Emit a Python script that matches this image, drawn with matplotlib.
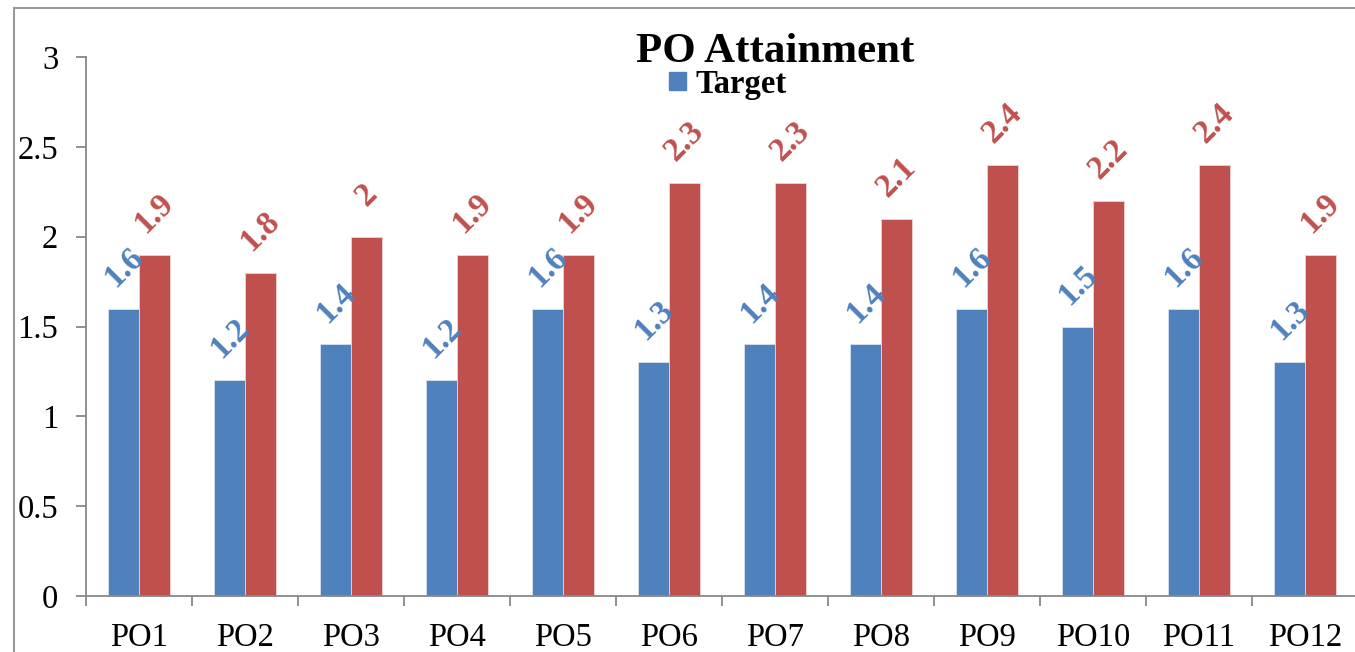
import matplotlib.pyplot as plt
import numpy as np
from matplotlib.patches import Rectangle, Patch

plt.rcParams['font.family'] = ['Liberation Serif', 'DejaVu Serif']

# PO attainment values
outcomes = ["PO1", "PO2", "PO3", "PO4", "PO5", "PO6",
            "PO7", "PO8", "PO9", "PO10", "PO11", "PO12"]
target = [1.6, 1.2, 1.4, 1.2, 1.6, 1.3, 1.4, 1.4, 1.6, 1.5, 1.6, 1.3]
attained = [1.9, 1.8, 2.0, 1.9, 1.9, 2.3, 2.3, 2.1, 2.4, 2.2, 2.4, 1.9]

blue = "#4F81BD"
red = "#C0504D"
axis_grey = "#888888"

fig = plt.figure(figsize=(13.55, 6.52), dpi=100)
ax = fig.add_axes([86 / 1355, 1 - 596 / 652, 1272 / 1355, (596 - 57) / 652])

x = np.arange(len(outcomes))
w = 0.29
b1 = ax.bar(x - w / 2, target, w, color=blue, edgecolor="#d9e2ef", linewidth=0.6, label="Target")
b2 = ax.bar(x + w / 2, attained, w, color=red, edgecolor="#efd3d2", linewidth=0.6, label="Attained")

# rotated value labels above each bar
for bars, vals, col in [(b1, target, blue), (b2, attained, red)]:
    for rect, v in zip(bars, vals):
        ax.annotate(f"{v:g}", (rect.get_x() + rect.get_width() / 2, v),
                    xytext=(0, 30), textcoords="offset points",
                    ha="center", va="center", rotation=45,
                    fontsize=24, fontweight="bold", color=col)

ax.set_xlim(-0.5, len(outcomes) - 0.5)
ax.set_ylim(0, 3)
ax.set_yticks(np.arange(0, 3.01, 0.5))
ax.set_yticklabels(["0", "0.5", "1", "1.5", "2", "2.5", "3"])

ax.set_xticks(x)
ax.set_xticklabels(outcomes)
ax.set_xticks(np.arange(-0.5, len(outcomes), 1), minor=True)
ax.tick_params(axis="x", which="major", length=0, pad=19, labelsize=23.5)
ax.tick_params(axis="x", which="minor", length=7, width=1.3, color=axis_grey)
ax.tick_params(axis="y", length=7, width=1.3, color=axis_grey, pad=13, labelsize=23.5)

for side in ["top", "right"]:
    ax.spines[side].set_visible(False)
for side in ["left", "bottom"]:
    ax.spines[side].set_color(axis_grey)
    ax.spines[side].set_linewidth(1.3)

fig.text(0.572, 1 - 62 / 652, "PO Attainment", ha="center", va="baseline",
         fontsize=31, fontweight="bold")

ax.legend(handles=[Patch(color=blue, label="Target")], loc="center left",
          bbox_to_anchor=(640 / 1355, 1 - 84 / 652), bbox_transform=fig.transFigure,
          frameon=False, handlelength=0.5, handleheight=0.5, handletextpad=0.3,
          prop={"size": 23.5, "weight": "bold"})

# chart area frame
fig.patches.append(Rectangle((14 / 1355, -0.1), 1.2, 0.1 + 1 - 8 / 652,
                             transform=fig.transFigure, fill=False,
                             edgecolor="#999999", linewidth=1.5))

fig.savefig("out.png", dpi=100)
